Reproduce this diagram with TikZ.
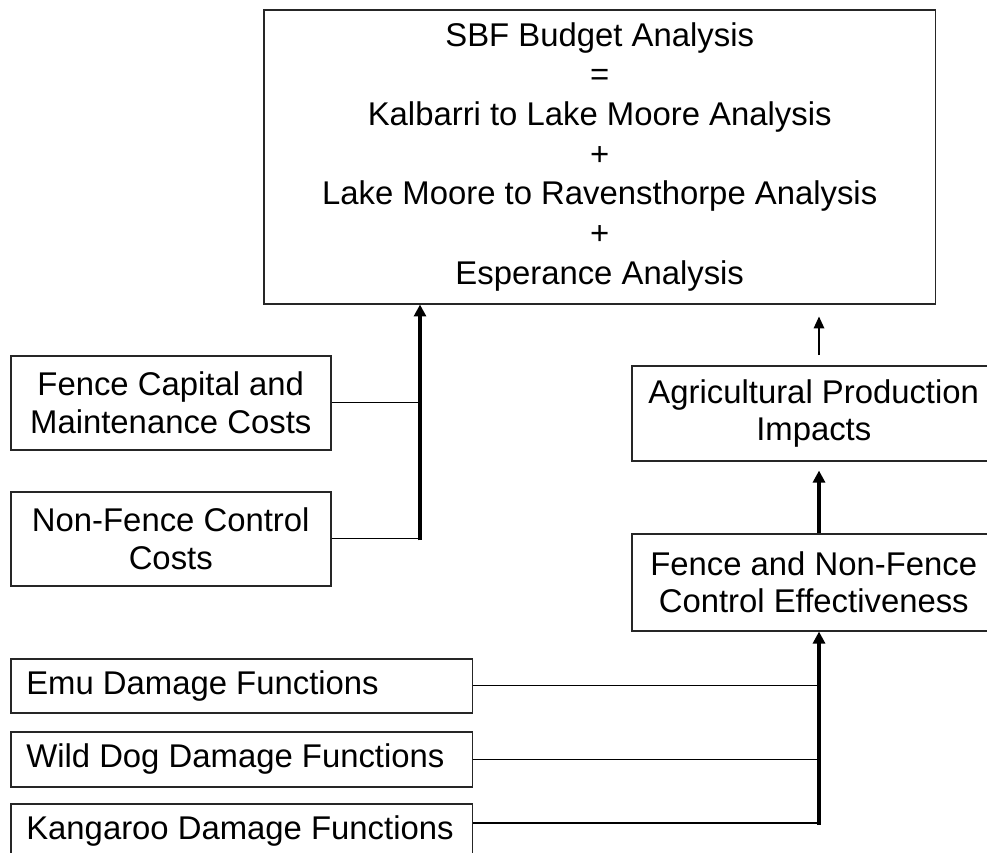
\documentclass[tikz,border=0pt]{standalone}
\usepackage{fontspec}
\setmainfont{Liberation Sans}
\usetikzlibrary{positioning}
\usetikzlibrary{arrows.meta}

\newcommand{\dmgtext}[1]{\makebox[8.62cm][l]{#1}}

\begin{document}
\begin{tikzpicture}[x=0.02cm,y=-0.02cm,
  box/.style={draw=black!85, line width=0.9pt, anchor=north west, inner sep=0pt,
    align=center, font=\fontsize{18.7}{21.2}\selectfont},
  dmgbox/.style={box, minimum width=9.24cm, inner xsep=0.31cm},
  feed/.style={line width=0.8pt},
  bigarrow/.style={line width=1.8pt, -{Triangle[length=6.8pt,width=6.8pt]}},
  smallarrow/.style={line width=0.9pt, -{Triangle[length=6.8pt,width=6pt]}}]

  \clip (0,0) rectangle (987,852);

  % budget
  \node[box, minimum width=13.44cm, minimum height=5.88cm,
    font=\fontsize{18.7}{22.6}\selectfont] (sbf) at (263,9)
    {SBF Budget Analysis\\=\\Kalbarri to Lake Moore Analysis\\+\\
     Lake Moore to Ravensthorpe Analysis\\+\\Esperance Analysis};

  % costs
  \node[box, minimum width=6.4cm, minimum height=1.88cm] (fcap) at (10,355)
    {Fence Capital and\\Maintenance Costs};
  \node[box, minimum width=6.4cm, minimum height=1.88cm] (nfcost) at (10,491)
    {Non-Fence Control\\Costs};

  \coordinate (costjoin) at (nfcost.east -| 420,0);
  \draw[feed] (fcap.east) -- (fcap.east -| costjoin);
  \draw[feed] (nfcost.east) -- (costjoin);
  \draw[bigarrow] ([yshift=-0.9pt]costjoin) -- (sbf.south -| costjoin);

  % production
  \node[box, minimum width=7.28cm, minimum height=1.9cm] (agri) at (631,365)
    {Agricultural Production\\Impacts};
  \node[box, minimum width=7.28cm, minimum height=1.94cm] (effect) at (631,533)
    {Fence and Non-Fence\\Control Effectiveness};

  % damage functions
  \node[dmgbox, minimum height=1.08cm] (emu) at (10,658) {\dmgtext{Emu Damage Functions}};
  \node[dmgbox, minimum height=1.1cm] (wdog) at (10,731) {\dmgtext{Wild Dog Damage Functions}};
  \node[dmgbox, minimum height=1.1cm] (kanga) at (10,803) {\dmgtext{Kangaroo Damage Functions}};

  \coordinate (effjoin) at (819,823);
  \draw[feed] (emu.east) -- (emu.east -| effjoin);
  \draw[feed] (wdog.east) -- (wdog.east -| effjoin);
  \draw[feed] (kanga.north east) ++(0,20) -- (effjoin);
  \draw[bigarrow] ([yshift=-0.9pt]effjoin) -- (effect.south -| effjoin);

  \draw[bigarrow, shorten >=0.18cm] (effect.north -| effjoin) -- (agri.south -| effjoin);
  \draw[smallarrow, shorten <=0.2cm, shorten >=0.24cm] (agri.north -| effjoin) -- (sbf.south -| effjoin);
\end{tikzpicture}
\end{document}
